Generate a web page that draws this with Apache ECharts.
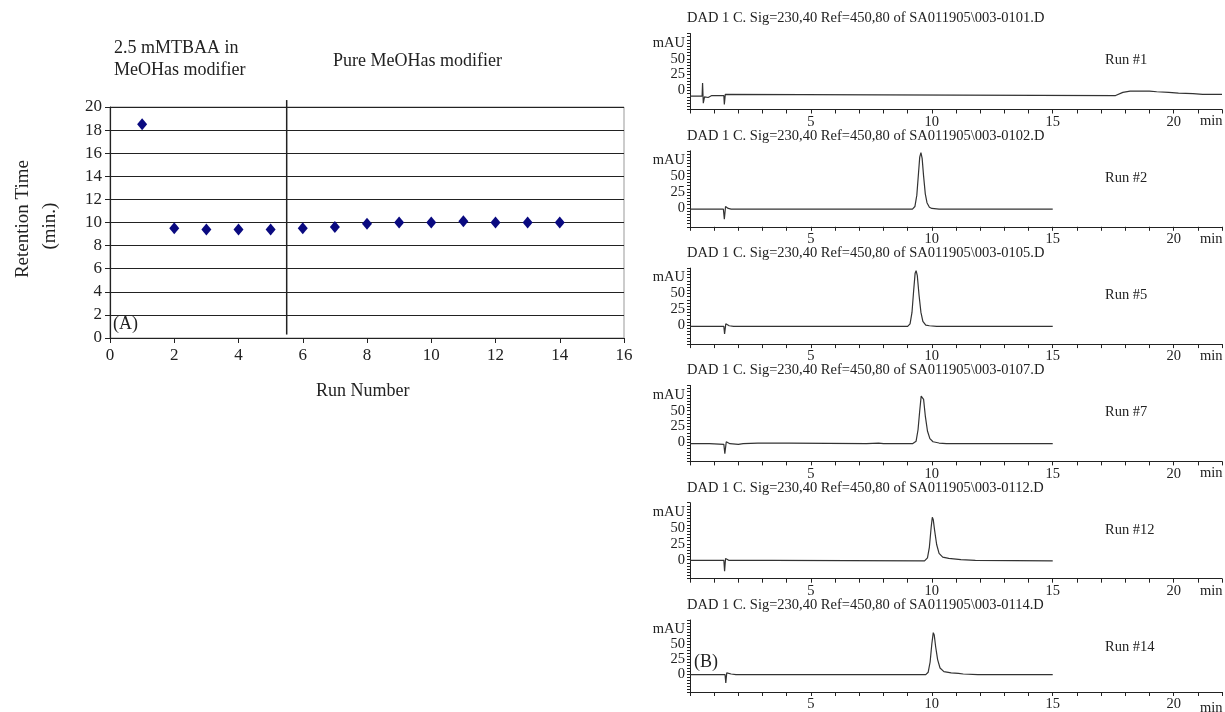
<!DOCTYPE html>
<html>
<head>
<meta charset="utf-8">
<script src="https://cdn.jsdelivr.net/npm/echarts@6/dist/echarts.min.js"></script>
<style>
  html, body { margin: 0; padding: 0; background: #fff; }
  #main { width: 1225px; height: 712px; }
</style>
</head>
<body>
<div id="main"></div>
<script>
// ---- panel A: retention time per run ----
const runNumbers = [1, 2, 3, 4, 5, 6, 7, 8, 9, 10, 11, 12, 13, 14];
const retentionTimes = [18.5, 9.5, 9.4, 9.4, 9.4, 9.5, 9.6, 9.9, 10.0, 10.0, 10.1, 10.0, 10.0, 10.0];
const modifierSwitchRun = 5.5;

// ---- panel B: chromatograms (time min, mAU) ----
const panelFiles = ["0101", "0102", "0105", "0107", "0112", "0114"];
const panelRuns = ["Run #1", "Run #2", "Run #5", "Run #7", "Run #12", "Run #14"];
const timeLabels = [5, 10, 15, 20];
const mauLabels = [0, 25, 50];

const run1Trace = [[0,-9],[0.5,-9],[0.52,12],[0.55,-20],[0.6,-10],[0.75,-11],[0.9,-8],[1.4,-8],[1.42,-22],[1.46,-6],[1.5,-8],
  [17.6,-8],[17.9,-3],[18.2,-1],[19.0,-1],[19.3,-2],[19.8,-3],[20.2,-4],[20.8,-5],[21.2,-6],[22,-6]];
const run2Trace = [[0,-2],[1.38,-2],[1.42,-18],[1.47,2],[1.52,4],[1.58,-1],[1.7,-2],[9.2,-2],[9.3,2],[9.38,20],[9.45,55],
  [9.5,80],[9.55,87],[9.6,78],[9.66,50],[9.73,22],[9.8,8],[9.9,1],[10.0,-1],[10.3,-2],[15,-2]];
const run5Trace = [[0,-2],[1.4,-2],[1.43,-14],[1.48,2],[1.55,3],[1.62,-1],[1.8,-2],[9.0,-2],[9.1,2],[9.18,20],[9.25,55],
  [9.31,82],[9.35,86],[9.4,78],[9.47,48],[9.55,20],[9.63,6],[9.75,0],[9.9,-1],[10.2,-2],[15,-2]];
const run7Trace = [[0,-2],[0.8,-2],[0.85,-3],[1.4,-3],[1.44,-18],[1.5,1],[1.56,2],[1.65,-2],[2.0,-3],[2.2,-2],[2.8,-1],
  [4.1,-1],[4.15,-2],[7.3,-2],[7.8,-1],[8.0,-2],[9.2,-2],[9.35,2],[9.43,20],[9.5,50],[9.56,73],[9.6,76],[9.66,68],
  [9.73,42],[9.82,18],[9.92,6],[10.05,1],[10.3,-1],[10.6,-2],[15,-2]];
const run12Trace = [[0,-1],[1.4,-1],[1.43,-18],[1.47,2],[1.53,3],[1.6,-1],[1.8,-1],[3.4,-1],[3.45,-2],[9.7,-2],[9.82,3],
  [9.9,20],[9.97,50],[10.02,67],[10.06,63],[10.12,45],[10.2,24],[10.3,10],[10.45,4],[10.7,2],[11.0,1],[11.2,0],
  [11.8,-1],[11.85,-2],[15,-2]];
const run14Trace = [[0,-1],[1.45,-1],[1.48,-15],[1.52,2],[1.58,3],[1.7,0],[1.9,-1],[9.75,-1],[9.85,3],[9.93,20],[10.0,50],
  [10.06,69],[10.1,65],[10.16,45],[10.24,24],[10.34,10],[10.5,4],[10.8,2],[11.1,1],[11.3,0],[11.9,-1],[11.95,1],
  [12.0,-1],[15,-1]];
const traces = [run1Trace, run2Trace, run5Trace, run7Trace, run12Trace, run14Trace];

const serif = "Liberation Serif";
const txt = size => ({ fontFamily: serif, fontSize: size, color: "#222", fontWeight: "normal" });
const chart = echarts.init(document.getElementById("main"));

const grids = [{ left: 110, top: 107, width: 514, height: 231, show: true, borderColor: "#999", borderWidth: 1 }];
const xAxes = [{
  gridIndex: 0, type: "value", min: 0, max: 16, interval: 2,
  axisLine: { onZero: false, lineStyle: { color: "#222", width: 1.2 } },
  axisTick: { length: 5, lineStyle: { color: "#222" } },
  axisLabel: { fontFamily: serif, fontSize: 17, color: "#222", margin: 9 },
  splitLine: { show: false }
}];
const yAxes = [{
  gridIndex: 0, type: "value", min: 0, max: 20, interval: 2,
  axisLine: { show: true, lineStyle: { color: "#222", width: 1.2 } },
  axisTick: { show: true, length: 5, lineStyle: { color: "#222" } },
  axisLabel: { fontFamily: serif, fontSize: 17, color: "#222", margin: 8 },
  splitLine: { lineStyle: { color: "#222", width: 1.2 } }
}];
const titles = [
  { text: "2.5 mMTBAA in", left: 114, top: 39, textStyle: txt(18) },
  { text: "MeOHas modifier", left: 114, top: 61, textStyle: txt(18) },
  { text: "Pure MeOHas modifier", left: 333, top: 52, textStyle: txt(18) },
  { text: "Run Number", left: 316, top: 382, textStyle: txt(18) },
  { text: "(A)", left: 113, top: 315, textStyle: txt(18) }
];

const series = [
  {
    type: "scatter", xAxisIndex: 0, yAxisIndex: 0, symbol: "diamond", symbolSize: [10, 12],
    itemStyle: { color: "#0a0a80", opacity: 1 },
    data: runNumbers.map((r, i) => [r, retentionTimes[i]])
  },
  {
    type: "line", xAxisIndex: 0, yAxisIndex: 0, showSymbol: false, clip: false,
    lineStyle: { color: "#222", width: 1.5 },
    data: [[modifierSwitchRun, 0.3], [modifierSwitchRun, 20.6]]
  }
];

panelFiles.forEach((f, k) => {
  const T = 20 + 117.3 * k;
  const gi = k + 1;
  grids.push({ left: 690, top: T + 13.5, width: 533, height: 76 });
  xAxes.push({
    gridIndex: gi, type: "value", min: 0, max: 22, interval: 1,
    axisLine: { onZero: false, lineStyle: { color: "#222", width: 1 } },
    axisTick: { length: 4, lineStyle: { color: "#222" } },
    axisLabel: { interval: 0, fontFamily: serif, fontSize: 14.5, color: "#222", margin: 5,
      formatter: v => timeLabels.includes(v) ? String(v) : "" },
    splitLine: { show: false }
  });
  yAxes.push({
    gridIndex: gi, type: "value", min: -30, max: 90, interval: 5,
    axisLine: { show: true, onZero: false, lineStyle: { color: "#222", width: 1 } },
    axisTick: { show: true, length: 3, lineStyle: { color: "#222" } },
    axisLabel: { interval: 0, fontFamily: serif, fontSize: 14.5, color: "#222", margin: 5,
      formatter: v => mauLabels.includes(v) ? String(v) : (v === 75 ? "mAU" : "") },
    splitLine: { show: false }
  });
  series.push({
    type: "line", xAxisIndex: gi, yAxisIndex: gi, showSymbol: false,
    lineStyle: { color: "#333", width: 1.2 },
    data: traces[k]
  });
  titles.push({ text: "DAD 1 C. Sig=230,40 Ref=450,80 of SA011905\\003-" + f + ".D", left: 687, top: T - 9,
    textStyle: txt(14.5) });
  titles.push({ text: panelRuns[k], left: 1105, top: T + 33, textStyle: txt(14.5) });
  titles.push({ text: "min", left: 1200, top: T + 94, textStyle: txt(14.5) });
});
titles.push({ text: "(B)", left: 694, top: 653, textStyle: txt(18) });
titles.forEach(t => { t.padding = 0; });

chart.setOption({
  backgroundColor: "#fff",
  animation: false,
  title: titles,
  grid: grids,
  xAxis: xAxes,
  yAxis: yAxes,
  series: series,
  graphic: [{
    type: "text", left: 10, top: 160,
    style: { text: "Retention Time\n      (min.)", font: "19px " + serif, fill: "#222", lineHeight: 27 },
    rotation: Math.PI / 2, x: 0, y: 0
  }]
});
</script>
</body>
</html>
